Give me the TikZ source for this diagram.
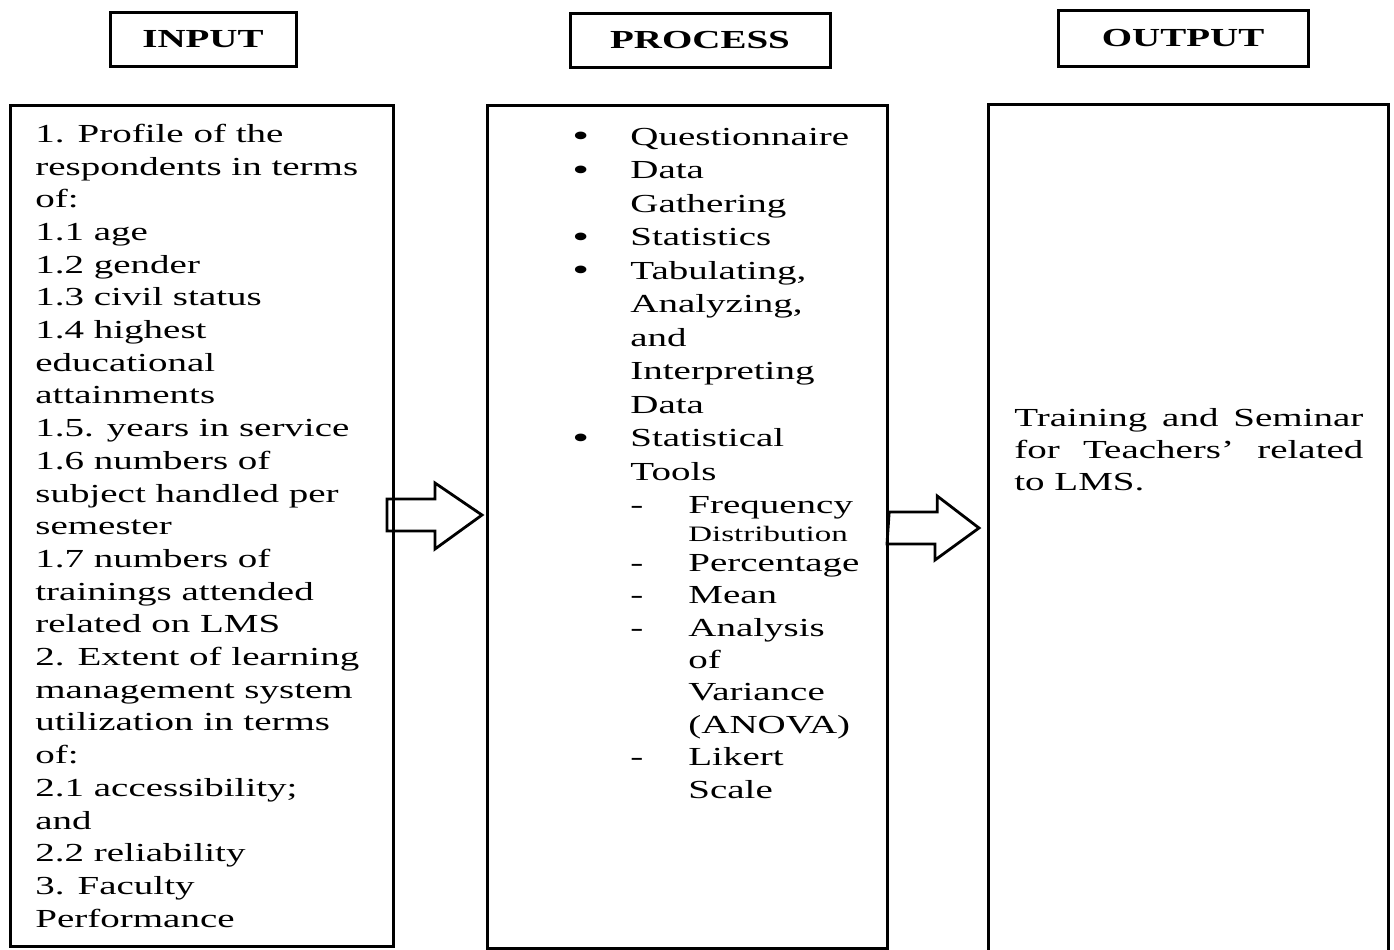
\documentclass[tikz,border=0pt]{standalone}
\usepackage{fontspec}
\setmainfont{Liberation Serif}[FakeStretch=1.5]
\usetikzlibrary{positioning,calc}
\tikzset{
  headbox/.style={draw, line width=1.5pt, inner sep=0pt, minimum height=27pt,
    font={\fontsize{13}{16}\selectfont\bfseries}},
  mainbox/.style={draw, line width=1.6pt, anchor=north west, inner sep=0pt},
  boxtext/.style={inner sep=0pt, align=left},
  blockarrow/.style={draw, line width=1.4pt, line join=miter},
}
\newcommand{\bitem}[1]{\makebox[29pt][l]{\raisebox{-0.6pt}{\fontsize{16}{16}\selectfont\textbullet}}#1}
\newcommand{\bcont}[1]{\hspace*{29pt}#1}
\newcommand{\ditem}[1]{\hspace*{29pt}\makebox[29pt][l]{-}#1}
\newcommand{\dcont}[1]{\hspace*{58pt}#1}
\begin{document}
\begin{tikzpicture}[x=0.5pt, y=-0.5pt]
  \useasboundingbox (0,0) rectangle (1394,949);

  % Column headings
  \node[headbox, minimum width=93pt] (inhead) at (203,39) {INPUT};
  \node[headbox, minimum width=130pt] (prochead) at (700,40) {PROCESS};
  \node[headbox, minimum width=125pt, minimum height=28pt] (outhead) at (1183,38.5) {OUTPUT};

  % Main boxes
  \node[mainbox, minimum width=191.5pt, minimum height=420.5pt] (inbox) at (9,104) {};
  \node[mainbox, minimum width=200pt, minimum height=421.5pt] (procbox) at (486,104) {};
  \node[mainbox, minimum width=200pt, minimum height=430pt] (outbox) at (987,103) {};

  % Input text
  \node[boxtext, below right=7.5pt and 13pt of inbox.north west,
    font={\fontsize{13}{16.35}\selectfont}] (intext)
  {\strut 1. Profile of the\\
   respondents in terms\\
   of:\\
   1.1 age\\
   1.2 gender\\
   1.3 civil status\\
   1.4 highest\\
   educational\\
   attainments\\
   1.5. years in service\\
   1.6 numbers of\\
   subject handled per\\
   semester\\
   1.7 numbers of\\
   trainings attended\\
   related on LMS\\
   2. Extent of learning\\
   management system\\
   utilization in terms\\
   of:\\
   2.1 accessibility;\\
   and\\
   2.2 reliability\\
   3. Faculty\\
   Performance};

  % Process text
  \node[boxtext, below right=8.75pt and 43pt of procbox.north west,
    font={\fontsize{13}{16.75}\selectfont}] (proctext)
  {\strut\bitem{Questionnaire}\\
   \bitem{Data}\\
   \bcont{Gathering}\\
   \bitem{Statistics}\\
   \bitem{Tabulating,}\\
   \bcont{Analyzing,}\\
   \bcont{and}\\
   \bcont{Interpreting}\\
   \bcont{Data}\\
   \bitem{Statistical}\\
   \bcont{Tools}\\
   \ditem{Frequency}\\[-3pt]
   \dcont{{\fontsize{11}{13}\selectfont Distribution}}\\[-1.75pt]
   \ditem{Percentage}\\[-0.55pt]
   \ditem{Mean}\\[-0.55pt]
   \ditem{Analysis}\\[-0.55pt]
   \dcont{of}\\[-0.55pt]
   \dcont{Variance}\\[-0.55pt]
   \dcont{(ANOVA)}\\[-0.55pt]
   \ditem{Likert}\\[-0.55pt]
   \dcont{Scale}};

  % Output text
  \node[inner sep=0pt, anchor=north west, text width=174.5pt, align=justify,
    below right=150.3pt and 13.5pt of outbox.north west,
    font={\fontsize{13}{16}\selectfont\tolerance=9999\hyphenpenalty=10000}] (outtext)
  {\strut Training and Seminar for Teachers’ related to LMS.};

  % Block arrows
  \coordinate (a1from) at (387,515);
  \coordinate (a1to) at (procbox.west |- a1from);
  \draw[blockarrow] (a1from) ++(0,-16) -- ++(48,0) -- ++(0,-16)
    -- ([xshift=-2pt]a1to) -- ++(-47,34) -- ++(0,-18) -- ++(-48,0) -- cycle;
  \coordinate (a2from) at (procbox.east |- 0,528);
  \coordinate (a2to) at (979,528);
  \draw[blockarrow] (a2from) ++(0,-16) -- ++(48,0) -- ++(0,-16)
    -- (a2to) -- ++(-44,32) -- ++(0,-16) -- ++(-48,0) -- cycle;
\end{tikzpicture}
\end{document}
